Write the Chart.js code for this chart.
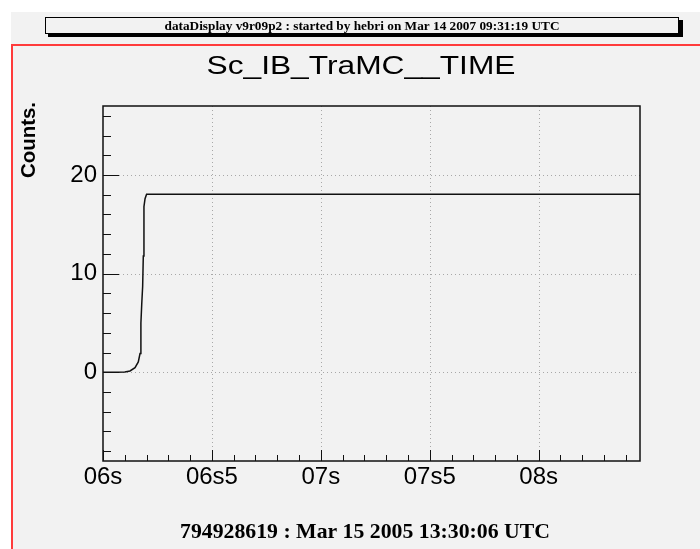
<!DOCTYPE html>
<html>
<head>
<meta charset="utf-8">
<script src="https://cdn.jsdelivr.net/npm/chart.js@4"></script>
<style>
  body { margin: 0; background: #fff; }
  canvas { display: block; }
</style>
</head>
<body>
<canvas id="myChart" width="700" height="549"></canvas>
<script>
// chart values
const headerText = "dataDisplay v9r09p2 : started by hebri on Mar 14 2007 09:31:19 UTC";
const titleText = "Sc_IB_TraMC__TIME";
const yTitle = "Counts.";
const footerText = "794928619 : Mar 15 2005 13:30:06 UTC";

const xTickVals = [6, 6.5, 7, 7.5, 8];
const xTickLabels = ["06s", "06s5", "07s", "07s5", "08s"];
const yTickVals = [0, 10, 20];
const yTickLabels = ["0", "10", "20"];

// seconds and counts of the curve
const timeSec = [6.0, 6.05, 6.1, 6.124, 6.147, 6.162, 6.17, 6.174, 6.178, 6.182, 6.185, 6.188, 6.193, 6.2, 8.465];
const counts = [0, 0, 0.03, 0.13, 0.47, 1.05, 1.9, 5.0, 7.0, 8.7, 11.8, 16.8, 17.6, 18.05, 18.05];

// draw a line of text squeezed/stretched to a width
function fitText(ctx, text, cx, y, width) {
  const w = ctx.measureText(text).width;
  ctx.save();
  ctx.translate(cx, y);
  ctx.scale(width / w, 1);
  ctx.textAlign = "center";
  ctx.fillText(text, 0, 0);
  ctx.restore();
}

const rootDecor = {
  id: "rootDecor",
  beforeDraw(chart) {
    const ctx = chart.ctx;
    ctx.save();
    ctx.fillStyle = "#fff";
    ctx.fillRect(0, 0, chart.width, chart.height);
    ctx.fillStyle = "#f2f2f2";
    ctx.fillRect(11, 12, chart.width, chart.height);

    // header box with shadow
    ctx.fillStyle = "#000";
    ctx.fillRect(48, 20, 635, 17);
    ctx.fillStyle = "#f2f2f2";
    ctx.fillRect(45, 17, 634, 17);
    ctx.strokeStyle = "#000";
    ctx.lineWidth = 1;
    ctx.strokeRect(45.5, 17.5, 633, 16);
    ctx.fillStyle = "#000";
    ctx.font = "bold 13px 'Liberation Serif'";
    ctx.textBaseline = "alphabetic";
    fitText(ctx, headerText, 362, 30, 395);

    // red pad frame
    ctx.strokeStyle = "#ff3b3b";
    ctx.lineWidth = 2;
    ctx.beginPath();
    ctx.moveTo(12, chart.height);
    ctx.lineTo(12, 45);
    ctx.lineTo(chart.width, 45);
    ctx.stroke();

    // title
    ctx.fillStyle = "#000";
    ctx.font = "25px 'Liberation Sans'";
    fitText(ctx, titleText, 361, 74, 309);

    // y title
    ctx.save();
    ctx.translate(35, 140);
    ctx.rotate(-Math.PI / 2);
    ctx.font = "bold 21px 'Liberation Sans'";
    fitText(ctx, yTitle, 0, 0, 76);
    ctx.restore();

    // footer
    ctx.font = "bold 21px 'Liberation Serif'";
    fitText(ctx, footerText, 365, 538, 370);
    ctx.restore();
  },
  beforeDatasetsDraw(chart) {
    const ctx = chart.ctx;
    const area = chart.chartArea;
    const xs = chart.scales.x;
    const ys = chart.scales.y;
    ctx.save();
    ctx.strokeStyle = "#a8a8a8";
    ctx.lineWidth = 1;
    ctx.setLineDash([1, 3]);
    xTickVals.forEach((v) => {
      if (v <= xs.min) return;
      const px = Math.round(xs.getPixelForValue(v)) + 0.5;
      ctx.beginPath();
      ctx.moveTo(px, area.top);
      ctx.lineTo(px, area.bottom);
      ctx.stroke();
    });
    yTickVals.forEach((v) => {
      const py = Math.round(ys.getPixelForValue(v)) + 0.5;
      ctx.beginPath();
      ctx.moveTo(area.left, py);
      ctx.lineTo(area.right, py);
      ctx.stroke();
    });
    ctx.restore();
  },
  afterDatasetsDraw(chart) {
    const ctx = chart.ctx;
    const area = chart.chartArea;
    const xs = chart.scales.x;
    const ys = chart.scales.y;
    ctx.save();
    ctx.strokeStyle = "#111";
    ctx.lineWidth = 1.5;
    ctx.strokeRect(area.left, area.top, area.right - area.left, area.bottom - area.top);

    // y ticks, major every 10, minor every 2
    ctx.lineWidth = 1;
    for (let v = Math.ceil(ys.min / 2) * 2; v <= ys.max; v += 2) {
      const len = v % 10 === 0 ? 16 : 8;
      const py = Math.round(ys.getPixelForValue(v)) + 0.5;
      ctx.beginPath();
      ctx.moveTo(area.left, py);
      ctx.lineTo(area.left + len, py);
      ctx.stroke();
    }
    // x ticks, major every 0.5, minor every 0.1
    for (let i = Math.ceil(xs.min * 10); i / 10 <= xs.max; i++) {
      const len = i % 5 === 0 ? 11 : 6;
      const px = Math.round(xs.getPixelForValue(i / 10)) + 0.5;
      ctx.beginPath();
      ctx.moveTo(px, area.bottom);
      ctx.lineTo(px, area.bottom - len);
      ctx.stroke();
    }
    ctx.restore();
  },
};

const ctx = document.getElementById("myChart");
const myChart = new Chart(ctx, {
  type: "line",
  data: {
    datasets: [
      {
        data: timeSec.map((t, i) => ({ x: t, y: counts[i] })),
        borderColor: "#111",
        borderWidth: 1.5,
        pointRadius: 0,
        tension: 0,
        fill: false,
      },
    ],
  },
  options: {
    responsive: false,
    animation: false,
    devicePixelRatio: 1,
    layout: { padding: { top: 106, right: 60, left: 0, bottom: 0 } },
    plugins: {
      legend: { display: false },
      tooltip: { enabled: false },
    },
    scales: {
      x: {
        type: "linear",
        min: 6,
        max: 8.465,
        grid: { display: false, drawTicks: false },
        border: { display: false },
        afterBuildTicks: (s) => {
          s.ticks = xTickVals.map((v) => ({ value: v }));
        },
        afterFit: (s) => {
          s.height = 88;
        },
        ticks: {
          maxRotation: 0,
          autoSkip: false,
          padding: 2,
          color: "#000",
          font: { family: "'Liberation Sans'", size: 24 },
          callback: (v) => xTickLabels[xTickVals.indexOf(v)],
        },
      },
      y: {
        min: -9,
        max: 27,
        grid: { display: false, drawTicks: false },
        border: { display: false },
        afterBuildTicks: (s) => {
          s.ticks = yTickVals.map((v) => ({ value: v }));
        },
        afterFit: (s) => {
          s.width = 103;
        },
        ticks: {
          autoSkip: false,
          padding: 6,
          color: "#000",
          font: { family: "'Liberation Sans'", size: 24 },
          callback: (v) => yTickLabels[yTickVals.indexOf(v)],
        },
      },
    },
  },
  plugins: [rootDecor],
});
</script>
</body>
</html>
